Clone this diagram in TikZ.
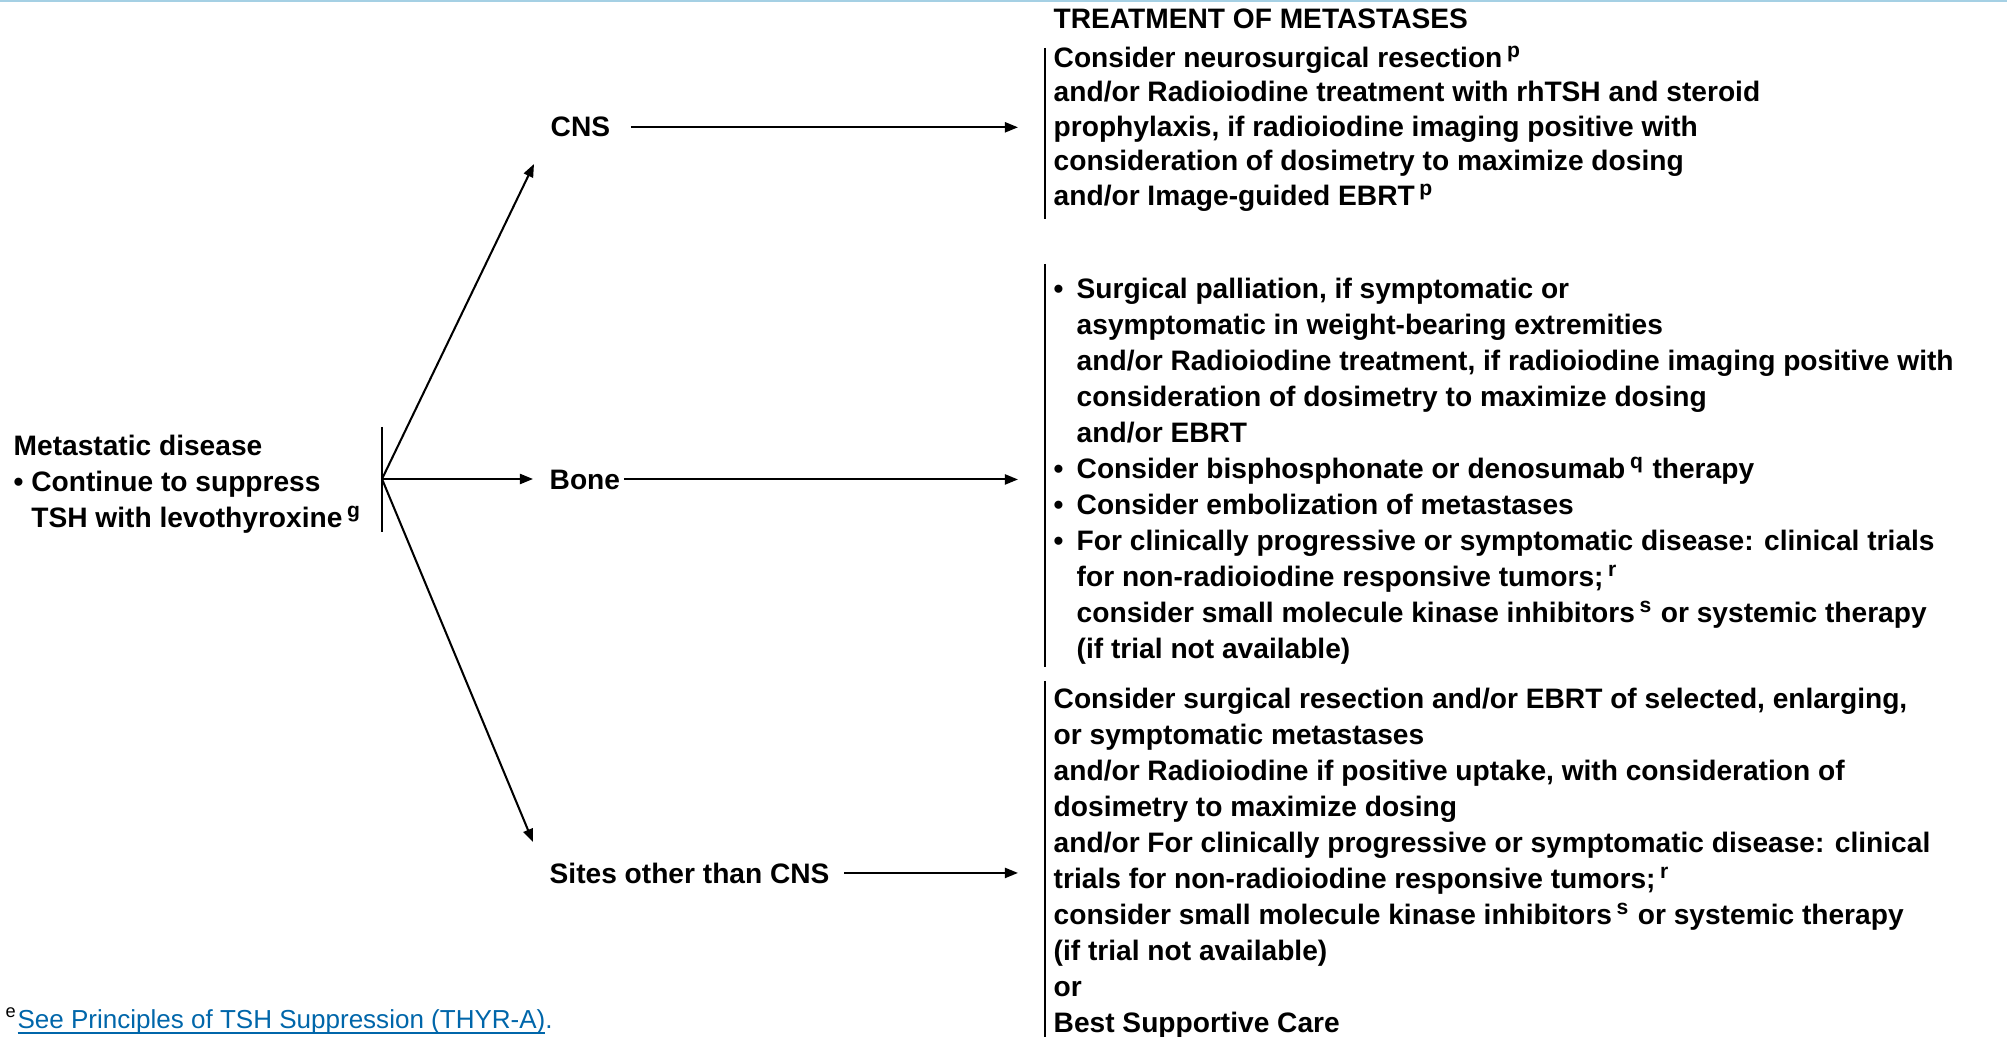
\documentclass[tikz,border=0pt]{standalone}
\usepackage{fontspec}
\setmainfont{Liberation Sans}
\usepackage{xcolor}
\usetikzlibrary{arrows.meta,positioning}

\definecolor{linkblue}{RGB}{0,102,170}
\definecolor{rulecyan}{RGB}{165,208,228}

\tikzset{
  lbl/.style={font=\bfseries\fontsize{8}{10.26}\selectfont, inner sep=0pt, align=left},
  txt/.style={lbl, anchor=north west, inner xsep=0.08cm, inner ysep=0pt},
  arr/.style={-{Triangle[length=1.3mm,width=1mm]}, line width=0.58pt},
  bar/.style={line width=0.55pt},
  topline/.style={rulecyan, line width=0.6pt}
}
\newcommand{\sups}[1]{\,\textsuperscript{#1}}
\newcommand{\bul}{\makebox[0.23cm][l]{\textbullet}}
\newcommand{\ind}{\hspace*{0.23cm}}
\newsavebox{\lnkbox}
\newcommand{\lnk}[1]{\sbox{\lnkbox}{#1}\rlap{\rule[-1.6pt]{\wd\lnkbox}{0.55pt}}\usebox{\lnkbox}}

\begin{document}
\begin{tikzpicture}[x=0.01cm, y=-0.01cm]
  \useasboundingbox (0,0) rectangle (2007,1037);
  \draw[topline] (0,1) -- (2007,1);

  %% start
  \node[lbl, anchor=north west] (meta) at (13,434)
    {Metastatic disease\\
     \textbullet\ Continue to suppress\\
     \phantom{\textbullet\ }TSH with levothyroxine\sups{g}};
  \coordinate (fork) at (382,479);
  \draw[bar] ([yshift=0.52cm]fork) -- ([yshift=-0.53cm]fork);

  %% sites
  \node[lbl, anchor=base west] (cns) at (550,137) {CNS};
  \node[lbl, anchor=base west] (bone) at (549,489) {Bone};
  \node[lbl, anchor=base west] (sites) at (549,883) {Sites other than CNS};
  \coordinate (cnsin) at (534,164);
  \coordinate (sitesin) at (533,842);

  \draw[arr] (fork) -- (cnsin);
  \draw[arr, shorten >=0.16cm] (fork) -- (fork -| bone.west);
  \draw[arr] (fork) -- (sitesin);

  %% treatment
  \node[lbl, anchor=base west] (head) at (1053,29) {TREATMENT OF METASTASES};

  %CNS
  \node[txt, font=\bfseries\fontsize{8}{9.85}\selectfont] (cnstx) at (1045,45)
    {Consider neurosurgical resection\sups{p}\\
     and/or Radioiodine treatment with rhTSH and steroid\\
     prophylaxis, if radioiodine imaging positive with\\
     consideration of dosimetry to maximize dosing\\
     and/or Image-guided EBRT\sups{p}};
  \draw[bar] ([yshift=-0.03cm]cnstx.north west) -- ([yshift=-0.07cm]cnstx.south west);
  \draw[arr, shorten <=0.2cm, shorten >=0.27cm] (cns.east) -- (cns.east -| cnstx.west);

  %Bone
  \node[txt] (bonetx) at (1045,277)
    {\bul Surgical palliation, if symptomatic or\\
     \ind asymptomatic in weight-bearing extremities\\
     \ind and/or Radioiodine treatment, if radioiodine imaging positive with\\
     \ind consideration of dosimetry to maximize dosing\\
     \ind and/or EBRT\\
     \bul Consider bisphosphonate or denosumab\sups{q} therapy\\
     \bul Consider embolization of metastases\\
     \bul For clinically progressive or symptomatic disease: clinical trials\\
     \ind for non-radioiodine responsive tumors;\sups{r}\\
     \ind consider small molecule kinase inhibitors\sups{s} or systemic therapy\\
     \ind (if trial not available)};
  \draw[bar] ([yshift=0.13cm]bonetx.north west) -- ([yshift=-0.02cm]bonetx.south west);
  \draw[arr, shorten <=0.03cm, shorten >=0.27cm] (bone.east) -- (bone.east -| bonetx.west);

  %Sites
  \node[txt] (sitestx) at (1045,687)
    {Consider surgical resection and/or EBRT of selected, enlarging,\\
     or symptomatic metastases\\
     and/or Radioiodine if positive uptake, with consideration of\\
     dosimetry to maximize dosing\\
     and/or For clinically progressive or symptomatic disease: clinical\\
     trials for non-radioiodine responsive tumors;\sups{r}\\
     consider small molecule kinase inhibitors\sups{s} or systemic therapy\\
     (if trial not available)\\
     or\\
     Best Supportive Care};
  \draw[bar] ([yshift=0.06cm]sitestx.north west) -- (sitestx.south west);
  \draw[arr, shorten <=0.14cm, shorten >=0.27cm] (sites.east) -- (sites.east -| sitestx.west);

  %% footnote
  \node[anchor=base west, inner sep=0pt, font=\fontsize{7.4}{9}\selectfont] (note) at (5,1028)
    {\textsuperscript{e}\textcolor{linkblue}{\lnk{See Principles of TSH Suppression (THYR-A)}.}};
\end{tikzpicture}
\end{document}
